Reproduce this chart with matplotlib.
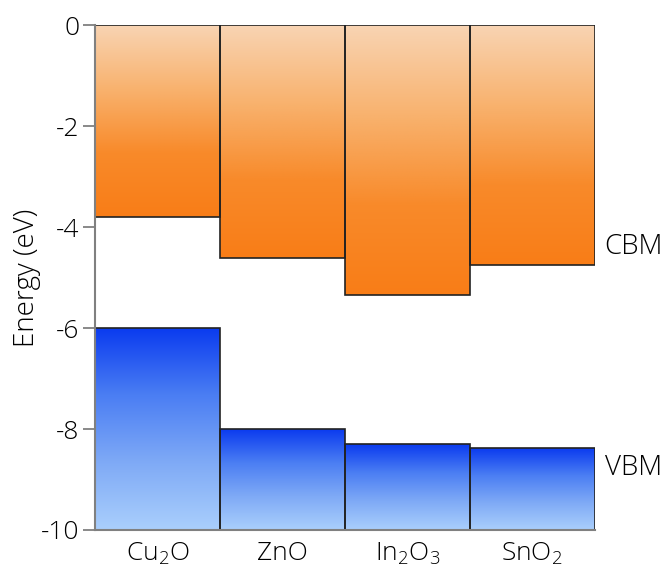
import numpy as np
import matplotlib.pyplot as plt
from matplotlib.colors import LinearSegmentedColormap
from matplotlib.patches import Rectangle

plt.rcParams['font.family'] = ['Open Sans', 'DejaVu Sans']
plt.rcParams['font.weight'] = 'light'
plt.rcParams['axes.labelweight'] = 'light'
plt.rcParams['mathtext.fontset'] = 'custom'
plt.rcParams['mathtext.rm'] = 'Open Sans:light'

# band edges (eV)
materials = ['Cu$\\mathrm{_2}$O', 'ZnO', 'In$\\mathrm{_2}$O$\\mathrm{_3}$', 'SnO$\\mathrm{_2}$']
cbm = [-3.8, -4.6, -5.35, -4.75]
vbm = [-6.0, -8.0, -8.3, -8.38]

orange = LinearSegmentedColormap.from_list('orange', ['#f9d4b3', '#f8b26e', '#f88a2a', '#f97d17'])
blue = LinearSegmentedColormap.from_list('blue', ['#0b3bef', '#4b7ef3', '#7faaf6', '#aacffc'])

fig = plt.figure(figsize=(6.69, 5.74), dpi=100)
ax = fig.add_axes([0.142, 0.0767, 0.747, 0.879])

grad = np.linspace(0, 1, 256).reshape(-1, 1)

for i in range(len(materials)):
    # conduction band: from vacuum level (0) down to CBM
    im = ax.imshow(grad, cmap=orange, aspect='auto', extent=(i, i + 1, cbm[i], 0),
                   origin='upper', zorder=1)
    r = Rectangle((i, cbm[i]), 1, -cbm[i], facecolor='none', edgecolor='#222222', lw=1.2, zorder=2)
    ax.add_patch(r)
    im.set_clip_path(r)
    # valence band: from VBM down to -10
    im2 = ax.imshow(grad, cmap=blue, aspect='auto', extent=(i, i + 1, -10, vbm[i]),
                    origin='upper', zorder=1)
    r2 = Rectangle((i, -10), 1, vbm[i] + 10, facecolor='none', edgecolor='#222222', lw=1.2, zorder=2)
    ax.add_patch(r2)
    im2.set_clip_path(r2)

ax.set_xlim(0, 4)
ax.set_ylim(-10, 0)
ax.set_xticks(np.arange(len(materials)) + 0.5)
ax.set_xticklabels(materials, fontsize=19)
ax.tick_params(axis='x', length=0, pad=8)
ax.set_yticks([0, -2, -4, -6, -8, -10])
ax.set_yticklabels(['0', '-2', '-4', '-6', '-8', '-10'], fontsize=19)
ax.tick_params(axis='y', length=9, width=1.3, color='#808080', pad=2)
ax.set_ylabel('Energy (eV)', fontsize=20, labelpad=0)

for s in ['top', 'right']:
    ax.spines[s].set_visible(False)
for s in ['left', 'bottom']:
    ax.spines[s].set_color('#808080')
    ax.spines[s].set_linewidth(1.5)

ax.text(4.08, -4.4, 'CBM', fontsize=20, va='center', ha='left', clip_on=False)
ax.text(4.08, -8.77, 'VBM', fontsize=20, va='center', ha='left', clip_on=False)

fig.savefig('out.png', dpi=100)
